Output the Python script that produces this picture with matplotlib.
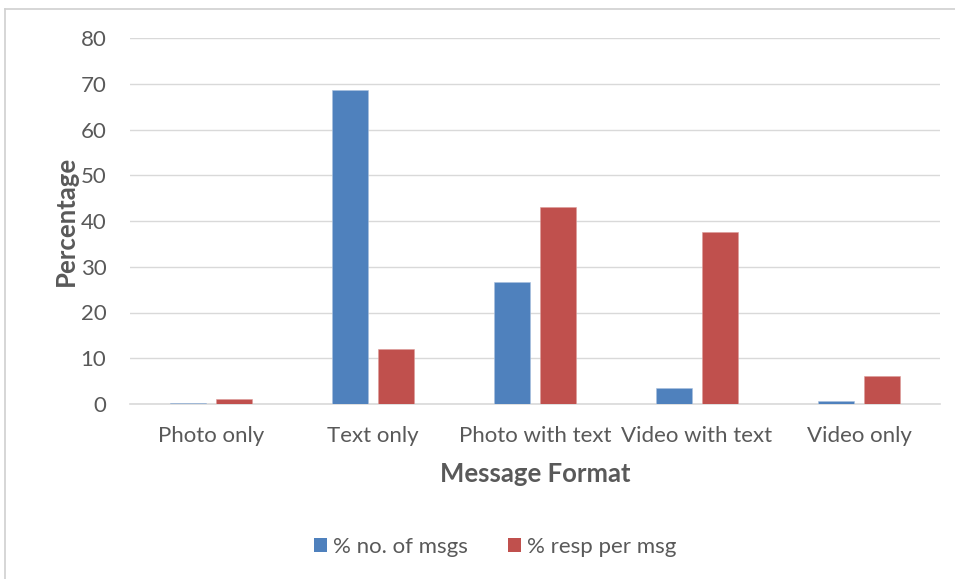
import numpy as np
import matplotlib
matplotlib.use("Agg")
import matplotlib.pyplot as plt
from matplotlib.lines import Line2D
from matplotlib.patches import Patch

categories = ["Photo only", "Text only", "Photo with text", "Video with text", "Video only"]
pct_msgs = [0.3, 68.7, 26.7, 3.6, 0.6]
pct_resp = [1.1, 12.0, 43.1, 37.6, 6.2]
series_names = ["% no. of msgs", "% resp per msg"]
yticks = [0, 10, 20, 30, 40, 50, 60, 70, 80]

BLUE = "#4f81bd"
RED = "#c0504d"
TEXT = "#595959"
GRID = "#d9d9d9"

plt.rcParams["font.family"] = ["Lato", "DejaVu Sans"]

fig = plt.figure(figsize=(9.55, 5.79), dpi=100)
ax = fig.add_axes([130 / 955, 1 - 404 / 579, 810 / 955, 366 / 579])

x = np.arange(len(categories))
w = 0.222
gap = 0.062
ax.bar(x - (w + gap) / 2, pct_msgs, width=w, color=BLUE, edgecolor="#a9c0de", linewidth=0.4, zorder=3)
ax.bar(x + (w + gap) / 2, pct_resp, width=w, color=RED, edgecolor="#dc9c9a", linewidth=0.4, zorder=3)

ax.set_xlim(-0.5, len(categories) - 0.5)
ax.set_ylim(0, 80)
ax.set_yticks(yticks)
ax.set_xticks(x)
ax.set_xticklabels(categories)
ax.tick_params(axis="both", length=0, labelsize=16, colors=TEXT)
ax.tick_params(axis="x", pad=16)
ax.tick_params(axis="y", pad=17)
ax.grid(axis="y", color=GRID, linewidth=1, zorder=0)

for s in ["top", "right", "left"]:
    ax.spines[s].set_visible(False)
ax.spines["bottom"].set_color(GRID)
ax.spines["bottom"].set_linewidth(1.2)

ax.set_ylabel("Percentage", fontsize=18.5, fontweight="bold", color=TEXT, labelpad=2)
ax.set_xlabel("Message Format", fontsize=18.5, fontweight="bold", color=TEXT, labelpad=11)

handles = [Patch(facecolor=BLUE, edgecolor="none"), Patch(facecolor=RED, edgecolor="none")]
fig.legend(handles, series_names, loc="center", bbox_to_anchor=(495 / 955, 1 - 547 / 579),
           ncol=2, frameon=False, fontsize=16, labelcolor=TEXT, handlelength=0.6,
           handleheight=0.6, handletextpad=0.25, columnspacing=1.8)

# chart area frame
fig.add_artist(Line2D([5 / 955, 5 / 955], [0, 1 - 9 / 579], color="#d0d0d0", linewidth=1.2))
fig.add_artist(Line2D([5 / 955, 1], [1 - 9 / 579, 1 - 9 / 579], color="#d0d0d0", linewidth=1.2))

fig.savefig("out.png", dpi=100)
